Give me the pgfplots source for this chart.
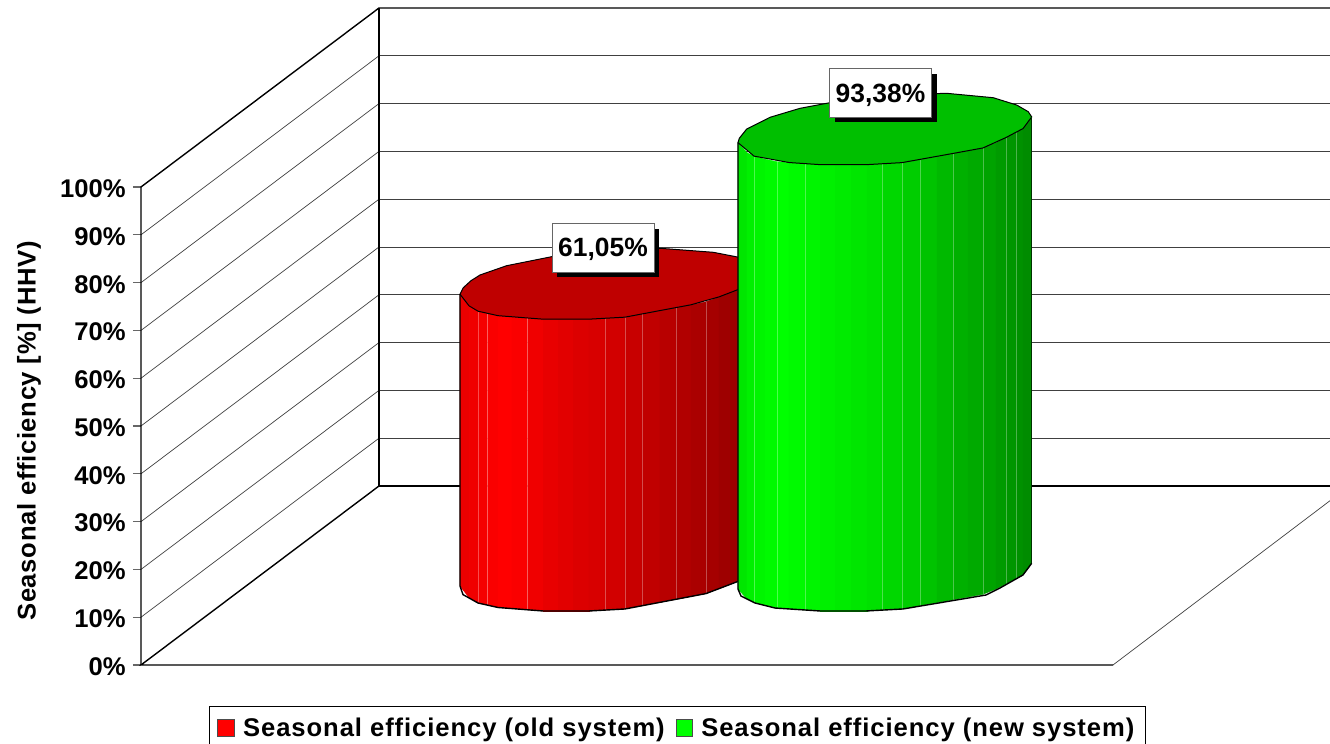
\documentclass[border=0pt]{standalone}
\usepackage{pgfplots}
\usepackage{fontspec}
\setmainfont{Liberation Sans}
\pgfplotsset{compat=1.18}
% one strip of a cylinder wall: R, G, x1, base1, top1, x2, base2, top2
\newcommand{\strip}[8]{\addplot[forget plot,fill={rgb,255:red,#1;green,#2;blue,0},draw={rgb,255:red,#1;green,#2;blue,0},line width=0.2pt] coordinates {(#3,#4)(#6,#7)(#6,#8)(#3,#5)} --cycle;}
\newcommand{\seam}[3]{\addplot[forget plot,draw=white,opacity=0.3,line width=0.35pt] coordinates {(#1,#2)(#1,#3)};}
\newcommand{\gridline}[4]{\addplot[forget plot,draw=black!75,line width=0.35pt] coordinates {(#1,#2)(#3,#4)};}
\newcommand{\datalabel}[3]{%
  \node[fill=black,minimum width=51pt,minimum height=24pt,inner sep=0pt] at ([xshift=2.5pt,yshift=-2.5pt]axis cs:#1,#2) {};
  \node[fill=white,draw=black!60,line width=0.4pt,minimum width=51pt,minimum height=24.4pt,inner sep=0pt,font=\fontsize{13.2}{15}\selectfont\bfseries] at (axis cs:#1,#2) {\raisebox{-4.7pt}[0pt][0pt]{#3}};}
\begin{document}
\begin{tikzpicture}
\useasboundingbox (-70.5pt,-39.5pt) rectangle (594.5pt,332.5pt);
\begin{axis}[
  at={(0pt,0pt)},anchor=south west,
  scale only axis,width=594.5pt,height=328.5pt,
  xmin=141,xmax=1330,ymin=0,ymax=137.45,
  clip=false,
  axis line style={draw=none},
  xtick=\empty,
  ytick={0,10,20,30,40,50,60,70,80,90,100},
  yticklabel={\pgfmathprintnumber{\tick}\%},
  /pgf/number format/assume math mode=true,
  tick align=outside,
  major tick length=4pt,
  ytick style={draw=black!60,line width=0.6pt},
  tick label style={font=\fontsize{12.8}{15}\selectfont\bfseries},
  yticklabel style={inner sep=3.5pt,yshift=-0.8pt},
  ylabel={Seasonal efficiency [\%] (HHV)},
  every axis y label/.style={at={(axis cs:29,48.95)},rotate=90,anchor=center,font=\fontsize{12.8}{15}\selectfont\bfseries\addfontfeature{LetterSpace=2.6}},
  legend columns=2,
  legend cell align=left,
  legend style={at={(axis cs:209,-8.6)},anchor=north west,draw=black,line width=0.6pt,inner xsep=3.5pt,inner ysep=3.4pt,
    font=\fontsize{12.8}{15}\selectfont\bfseries\addfontfeature{LetterSpace=3.65},
    /tikz/every even column/.append style={column sep=3.5pt}},
]
\addlegendimage{legend image code/.code={\draw[fill=red,draw=black!70,line width=0.5pt] (0pt,-4.2pt) rectangle (8.5pt,4.2pt);\path[draw=none] (0pt,0pt) -- (11pt,0pt);}}
\addlegendentry{Seasonal efficiency (old system)}
\addlegendimage{legend image code/.code={\draw[fill=green,draw=black!70,line width=0.5pt] (0pt,-4.2pt) rectangle (8pt,4.2pt);\path[draw=none] (0pt,0pt) -- (10.5pt,0pt);}}
\addlegendentry{Seasonal efficiency (new system)}
% back wall horizontals
\gridline{379}{47.45}{1330}{47.45}
\gridline{379}{57.45}{1330}{57.45}
\gridline{379}{67.45}{1330}{67.45}
\gridline{379}{77.45}{1330}{77.45}
\gridline{379}{87.45}{1330}{87.45}
\gridline{379}{97.45}{1330}{97.45}
\gridline{379}{107.45}{1330}{107.45}
\gridline{379}{117.45}{1330}{117.45}
\gridline{379}{127.45}{1330}{127.45}
% side wall diagonals
\gridline{141}{10}{379}{47.45}
\gridline{141}{20}{379}{57.45}
\gridline{141}{30}{379}{67.45}
\gridline{141}{40}{379}{77.45}
\gridline{141}{50}{379}{87.45}
\gridline{141}{60}{379}{97.45}
\gridline{141}{70}{379}{107.45}
\gridline{141}{80}{379}{117.45}
\gridline{141}{90}{379}{127.45}
\gridline{1113}{0}{1330}{34.37}
% frame
\addplot[forget plot,black,line width=0.7pt] coordinates {(141,0)(141,100)(379,137.45)(1330,137.45)};
\addplot[forget plot,black,line width=0.7pt] coordinates {(379,137.45)(379,37.45)(1330,37.45)};
\addplot[forget plot,black,line width=0.7pt] coordinates {(379,37.45)(141,0)(1113,0)};
% old system cylinder (61.05)
\strip{235}{0}{460}{16.53}{77.58}{469}{14.10}{75.15}
\strip{240}{0}{469}{14.10}{75.15}{478}{12.97}{74.02}
\strip{245}{0}{478}{12.97}{74.02}{487.5}{12.53}{73.58}
\strip{250}{0}{487.5}{12.53}{73.58}{498}{12.03}{73.08}
\strip{255}{0}{498}{12.03}{73.08}{512}{11.80}{72.85}
\strip{250}{0}{512}{11.80}{72.85}{527.5}{11.55}{72.60}
\strip{240}{0}{527.5}{11.55}{72.60}{543}{11.30}{72.35}
\strip{232}{0}{543}{11.30}{72.35}{558}{11.30}{72.35}
\strip{226}{0}{558}{11.30}{72.35}{573}{11.30}{72.35}
\strip{220}{0}{573}{11.30}{72.35}{589}{11.30}{72.35}
\strip{216}{0}{589}{11.30}{72.35}{605}{11.49}{72.54}
\strip{210}{0}{605}{11.49}{72.54}{625}{11.72}{72.77}
\strip{200}{0}{625}{11.72}{72.77}{642}{12.38}{73.43}
\strip{192}{0}{642}{12.38}{73.43}{660}{13.10}{74.15}
\strip{184}{0}{660}{13.10}{74.15}{676}{13.72}{74.77}
\strip{177}{0}{676}{13.72}{74.77}{691}{14.31}{75.36}
\strip{170}{0}{691}{14.31}{75.36}{706}{14.94}{75.99}
\strip{165}{0}{706}{14.94}{75.99}{719}{15.96}{77.01}
\strip{158}{0}{719}{15.96}{77.01}{739}{17.57}{78.62}
\seam{478}{12.97}{74.02}
\seam{487.5}{12.53}{73.58}
\seam{527.5}{11.55}{72.60}
\seam{605}{11.49}{72.54}
\seam{625}{11.72}{72.77}
\seam{642}{12.38}{73.43}
\seam{676}{13.72}{74.77}
\seam{706}{14.94}{75.99}
\addplot[forget plot,fill={rgb,255:red,191;green,0;blue,0},draw=black,line width=0.5pt] coordinates {
 (460,77.58)(463.3,78.93)(471,80.4)(480,81.59)(506.7,83.54)(551.7,85.42)(606.7,86.82)(660,87.18)(713.3,86.34)(739,85.29)
 (739,78.62)(719,77.01)(691,75.36)(660,74.15)(625,72.77)(589,72.35)(543,72.35)(498,73.08)(478,74.02)(469,75.15)} --cycle;
\addplot[forget plot,black,line width=0.7pt] coordinates {
 (460,77.58)(460,16.53)(463,14.73)(478,12.97)(498,12.03)(543,11.30)(589,11.30)(625,11.72)(706,14.94)(739,17.57)};
% new system cylinder (93.38)
\strip{0}{230}{738}{15.90}{109.28}{747}{13.81}{107.19}
\strip{0}{240}{747}{13.81}{107.19}{754}{13.08}{106.46}
\strip{0}{245}{754}{13.08}{106.46}{765}{12.45}{105.83}
\strip{0}{250}{765}{12.45}{105.83}{777}{11.90}{105.28}
\strip{0}{255}{777}{11.90}{105.28}{789}{11.74}{105.12}
\strip{0}{250}{789}{11.74}{105.12}{805}{11.51}{104.89}
\strip{0}{245}{805}{11.51}{104.89}{820}{11.30}{104.68}
\strip{0}{240}{820}{11.30}{104.68}{835}{11.30}{104.68}
\strip{0}{235}{835}{11.30}{104.68}{851}{11.30}{104.68}
\strip{0}{230}{851}{11.30}{104.68}{867}{11.30}{104.68}
\strip{0}{225}{867}{11.30}{104.68}{882}{11.49}{104.87}
\strip{0}{215}{882}{11.49}{104.87}{902}{11.72}{105.10}
\strip{0}{205}{902}{11.72}{105.10}{920}{12.41}{105.79}
\strip{0}{195}{920}{12.41}{105.79}{937}{13.03}{106.41}
\strip{0}{185}{937}{13.03}{106.41}{953}{13.64}{107.02}
\strip{0}{176}{953}{13.64}{107.02}{968}{14.21}{107.59}
\strip{0}{170}{968}{14.21}{107.59}{983}{14.79}{108.17}
\strip{0}{163}{983}{14.79}{108.17}{996}{15.90}{109.28}
\strip{0}{155}{996}{15.90}{109.28}{1006}{16.97}{110.35}
\strip{0}{150}{1006}{16.97}{110.35}{1016}{18.08}{111.46}
\strip{0}{145}{1016}{18.08}{111.46}{1023}{18.83}{112.21}
\strip{0}{140}{1023}{18.83}{112.21}{1031.7}{21.28}{114.66}
\seam{754}{13.08}{106.46}
\seam{777}{11.90}{105.28}
\seam{805}{11.51}{104.89}
\seam{882}{11.49}{104.87}
\seam{902}{11.72}{105.10}
\seam{920}{12.41}{105.79}
\seam{953}{13.64}{107.02}
\seam{983}{14.79}{108.17}
\seam{1006}{16.97}{110.35}
\seam{1016}{18.08}{111.46}
\addplot[forget plot,fill={rgb,255:red,0;green,191;blue,0},draw=black,line width=0.5pt] coordinates {
 (738,109.28)(739.3,110.19)(746.7,112.13)(770,114.58)(800,116.46)(830,117.64)(886.7,119.25)(946.7,119.60)(993.3,118.68)(1016.7,117.15)(1028.3,115.75)(1031.7,114.66)
 (1023,112.21)(1016,111.46)(1006,110.35)(983,108.17)(953,107.02)(902,105.10)(867,104.68)(820,104.68)(789,105.12)(754,106.46)} --cycle;
\addplot[forget plot,black,line width=0.7pt] coordinates {
 (738,109.28)(738,15.90)(741,14.44)(755,12.97)(775,11.92)(820,11.30)(866,11.30)(903,11.72)(986,14.64)(1000,16.11)(1023,18.83)(1031.7,21.28)};
\addplot[forget plot,draw=black!60!green!50!black,line width=0.5pt] coordinates {(1031.7,21.28)(1031.7,114.66)};
\datalabel{603}{87.34}{61,05\%}
\datalabel{880.5}{119.71}{93,38\%}
\end{axis}
\end{tikzpicture}
\end{document}
